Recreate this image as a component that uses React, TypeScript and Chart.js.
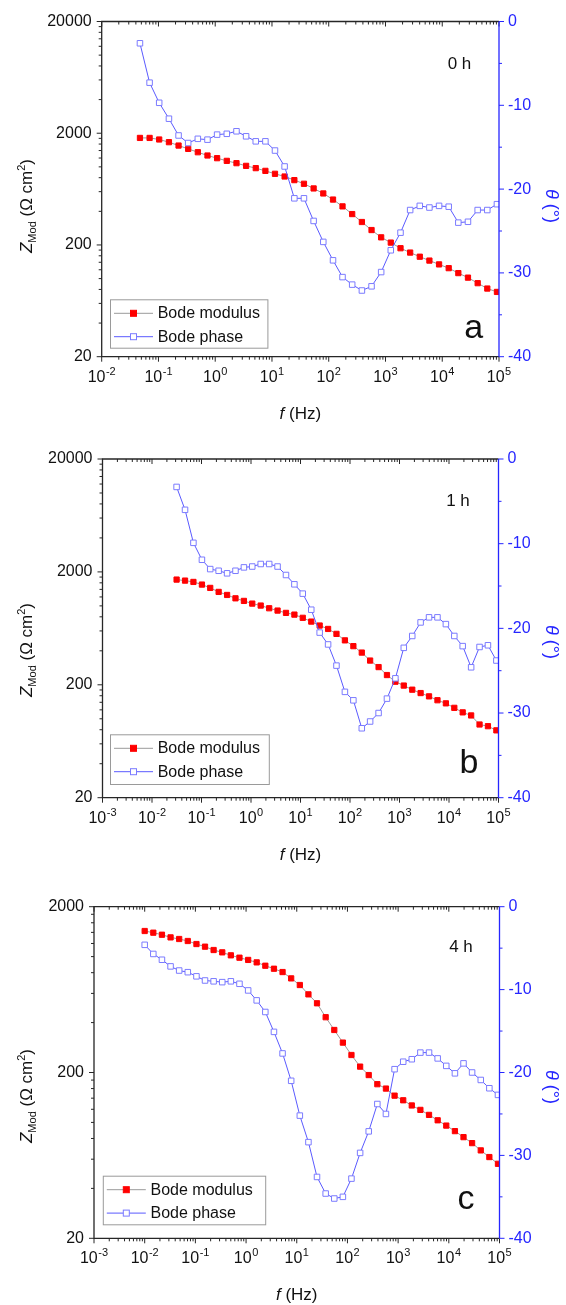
import React, { useEffect, useRef } from 'react';
import { Chart, registerables } from 'chart.js';

Chart.register(...registerables);

// ---------- Data ----------
// Panel a (0 h)
const freqA = [0.0472, 0.0698, 0.103, 0.153, 0.226, 0.334, 0.494, 0.731, 1.08, 1.6, 2.37, 3.5, 5.18, 7.66, 11.3, 16.7, 24.8, 36.6, 54.2, 80.2, 119, 175, 259, 384, 568, 839, 1240, 1840, 2720, 4020, 5940, 8790, 13000, 19200, 28400, 42100, 62200, 92000];
const modulusA = [1816, 1816, 1758, 1663, 1552, 1449, 1352, 1264, 1196, 1132, 1079, 1021, 974, 921, 867, 820, 761, 706, 641, 578, 510, 443, 378, 321, 272, 234, 210, 187, 171, 157, 145, 134, 124, 112, 102, 91, 81.5, 76];
const phaseA = [-2.6, -7.3, -9.7, -11.6, -13.6, -14.5, -14.0, -14.1, -13.5, -13.4, -13.1, -13.7, -14.3, -14.3, -15.4, -17.3, -21.1, -21.1, -23.8, -26.3, -28.5, -30.5, -31.4, -32.1, -31.6, -29.9, -27.3, -25.2, -22.5, -22.0, -22.2, -22.0, -22.1, -24.0, -23.9, -22.5, -22.5, -21.8];

// Panel b (1 h)
const freqB = [0.0314, 0.0465, 0.0687, 0.102, 0.15, 0.222, 0.329, 0.486, 0.719, 1.06, 1.57, 2.33, 3.44, 5.09, 7.53, 11.1, 16.5, 24.4, 36.1, 53.3, 78.9, 117, 173, 255, 378, 558, 826, 1220, 1810, 2670, 3950, 5850, 8650, 12800, 18900, 28000, 41400, 61200, 90600];
const modulusB = [1710, 1675, 1630, 1545, 1443, 1330, 1250, 1167, 1107, 1048, 1007, 953, 909, 867, 837, 784, 726, 670, 625, 565, 495, 440, 386, 328, 287, 244, 213, 197, 181, 169, 158, 146, 137, 125, 114, 107, 89, 86, 79];
const phaseB = [-3.3, -6.0, -9.9, -11.9, -13.0, -13.2, -13.5, -13.2, -12.8, -12.7, -12.4, -12.4, -12.7, -13.7, -14.8, -15.9, -17.8, -20.5, -21.9, -24.4, -27.5, -28.5, -31.8, -31.0, -30.0, -28.3, -25.9, -22.3, -20.9, -19.3, -18.7, -18.7, -19.5, -20.9, -22.1, -24.6, -22.2, -22.0, -23.8];

// Panel c (4 h)
const freqC = [0.01, 0.0148, 0.0219, 0.0324, 0.0479, 0.0708, 0.105, 0.155, 0.229, 0.339, 0.501, 0.741, 1.1, 1.62, 2.4, 3.55, 5.25, 7.76, 11.5, 17.0, 25.1, 37.2, 55.0, 81.3, 120, 178, 263, 389, 575, 851, 1260, 1860, 2750, 4070, 6030, 8910, 13200, 19500, 28800, 42700, 63100, 93300];
const modulusC = [1427, 1394, 1355, 1306, 1277, 1242, 1191, 1148, 1096, 1061, 1018, 985, 955, 923, 881, 845, 807, 739, 674, 592, 523, 431, 361, 303, 255, 217, 193, 170, 160, 145, 136, 126.5, 119, 111, 103, 95.7, 88.6, 81.5, 75, 67.8, 61.8, 56.3];
const phaseC = [-4.6, -5.7, -6.4, -7.2, -7.7, -7.9, -8.4, -8.9, -9.0, -9.1, -9.0, -9.3, -10.1, -11.3, -12.7, -15.1, -17.7, -21.0, -25.2, -28.4, -32.6, -34.6, -35.2, -35.0, -32.8, -29.7, -27.1, -23.8, -25.0, -19.6, -18.7, -18.4, -17.6, -17.6, -18.3, -19.2, -20.1, -18.9, -20.0, -20.9, -21.9, -22.7];

// Tick labels
const xExponentsA = [-2, -1, 0, 1, 2, 3, 4, 5];
const xExponentsBC = [-3, -2, -1, 0, 1, 2, 3, 4, 5];
const zTicksAB = [20, 200, 2000, 20000];
const zTicksC = [20, 200, 2000];
const phaseTicks = [-40, -30, -20, -10, 0];

const seriesNames = ['Bode modulus', 'Bode phase'];
const timeLabels = ['0 h', '1 h', '4 h'];
const panelLetters = ['a', 'b', 'c'];

// ---------- Styling ----------
const FONT = '"Liberation Sans", Arial, Helvetica, sans-serif';
const AXIS_BLUE = '#2626ff';
const PHASE_LINE = '#5a5aff';
const PHASE_MARK = '#7b7bff';
const MOD_LINE = '#9a9a9a';
const MOD_MARK = '#ff0000';
const FRAME = '#262626';
const W = 566;

interface PanelLayout {
  canvasTop: number;
  canvasH: number;
  left: number;
  right: number;
  top: number;
  bottom: number;
  legend: { x: number; y: number; w: number; h: number };
  tag: { x: number; y: number };
  letter: { x: number; y: number };
  yTitleC: number;
  rTitleC: number;
}

interface PanelDef {
  freq: number[];
  modulus: number[];
  phase: number[];
  xExps: number[];
  zTicks: number[];
  tag: string;
  letter: string;
  layout: PanelLayout;
}

const panels: PanelDef[] = [
  {
    freq: freqA, modulus: modulusA, phase: phaseA, xExps: xExponentsA, zTicks: zTicksAB,
    tag: timeLabels[0], letter: panelLetters[0],
    layout: {
      canvasTop: 0, canvasH: 430, left: 101.7, right: 499, top: 21.5, bottom: 356.7,
      legend: { x: 110, y: 299.3, w: 157.4, h: 48.4 },
      tag: { x: 459.5, y: 69.3 }, letter: { x: 473.6, y: 338.3 },
      yTitleC: 206, rTitleC: 206,
    },
  },
  {
    freq: freqB, modulus: modulusB, phase: phaseB, xExps: xExponentsBC, zTicks: zTicksAB,
    tag: timeLabels[1], letter: panelLetters[1],
    layout: {
      canvasTop: 430, canvasH: 440, left: 102.5, right: 498.5, top: 29, bottom: 367.7,
      legend: { x: 110, y: 304.3, w: 158.8, h: 49.7 },
      tag: { x: 458, y: 76 }, letter: { x: 469, y: 343.3 },
      yTitleC: 220, rTitleC: 212,
    },
  },
  {
    freq: freqC, modulus: modulusC, phase: phaseC, xExps: xExponentsBC, zTicks: zTicksC,
    tag: timeLabels[2], letter: panelLetters[2],
    layout: {
      canvasTop: 870, canvasH: 435, left: 94, right: 499.5, top: 36.7, bottom: 368.3,
      legend: { x: 102.8, y: 305.7, w: 162.4, h: 48.6 },
      tag: { x: 461, y: 81.7 }, letter: { x: 466, y: 339.3 },
      yTitleC: 226, rTitleC: 217,
    },
  },
];

function makeDecor(p: PanelDef) {
  const L = p.layout;
  return {
    id: 'decor',
    afterDraw(chart: any) {
      const ctx: CanvasRenderingContext2D = chart.ctx;
      const xs = chart.scales.x;
      const ys = chart.scales.y;
      const y2 = chart.scales.y2;
      const { left, right, top, bottom } = chart.chartArea;
      ctx.save();

      // Frame (left, top, bottom) in black
      ctx.strokeStyle = FRAME;
      ctx.lineWidth = 1.3;
      ctx.beginPath();
      ctx.moveTo(right, top);
      ctx.lineTo(left, top);
      ctx.lineTo(left, bottom);
      ctx.lineTo(right, bottom);
      ctx.stroke();

      // X ticks: bottom outward, top inward
      ctx.lineWidth = 1;
      ctx.beginPath();
      const e0 = p.xExps[0];
      const e1 = p.xExps[p.xExps.length - 1];
      for (let e = e0; e <= e1; e++) {
        for (let k = 1; k <= 9; k++) {
          if (e === e1 && k > 1) break;
          const v = k * Math.pow(10, e);
          const px = xs.getPixelForValue(v);
          const len = k === 1 ? 5 : 3;
          ctx.moveTo(px, bottom);
          ctx.lineTo(px, bottom + len);
          ctx.moveTo(px, top);
          ctx.lineTo(px, top + len);
        }
      }
      // Left axis ticks outward
      for (let i = 0; i < p.zTicks.length; i++) {
        const M = p.zTicks[i];
        const py = ys.getPixelForValue(M);
        ctx.moveTo(left, py);
        ctx.lineTo(left - 5, py);
        if (i < p.zTicks.length - 1) {
          for (let m = 2; m <= 9; m++) {
            const pm = ys.getPixelForValue(M * m);
            ctx.moveTo(left, pm);
            ctx.lineTo(left - 3, pm);
          }
        }
      }
      ctx.stroke();

      // Right axis (blue)
      ctx.strokeStyle = AXIS_BLUE;
      ctx.lineWidth = 1.3;
      ctx.beginPath();
      ctx.moveTo(right, top);
      ctx.lineTo(right, bottom);
      ctx.stroke();
      ctx.lineWidth = 1;
      ctx.beginPath();
      for (let v = -40; v <= 0; v += 5) {
        const py = y2.getPixelForValue(v);
        const len = v % 10 === 0 ? 5 : 3;
        ctx.moveTo(right, py);
        ctx.lineTo(right + len, py);
      }
      ctx.stroke();

      // X tick labels 10^n
      ctx.fillStyle = '#111';
      ctx.textBaseline = 'alphabetic';
      ctx.textAlign = 'left';
      for (const e of p.xExps) {
        const px = xs.getPixelForValue(Math.pow(10, e));
        ctx.font = `16px ${FONT}`;
        const wBase = ctx.measureText('10').width;
        ctx.font = `11px ${FONT}`;
        const expStr = String(e);
        const wExp = ctx.measureText(expStr).width;
        const start = px - (wBase + wExp + 0.5) / 2;
        ctx.font = `16px ${FONT}`;
        ctx.fillText('10', start, bottom + 25);
        ctx.font = `11px ${FONT}`;
        ctx.fillText(expStr, start + wBase + 0.5, bottom + 18);
      }

      // X title: f (Hz)
      {
        ctx.font = `italic 17px ${FONT}`;
        const wf = ctx.measureText('f').width;
        ctx.font = `17px ${FONT}`;
        const wr = ctx.measureText(' (Hz)').width;
        const cx = (left + right) / 2;
        const sx = cx - (wf + wr) / 2;
        ctx.fillStyle = '#111';
        ctx.font = `italic 17px ${FONT}`;
        ctx.fillText('f', sx, bottom + 62);
        ctx.font = `17px ${FONT}`;
        ctx.fillText(' (Hz)', sx + wf, bottom + 62);
      }

      // Left title: Z_Mod (Ω cm²)
      {
        const parts: { t: string; f: string; dy: number }[] = [
          { t: 'Z', f: `italic 17px ${FONT}`, dy: 0 },
          { t: 'Mod', f: `11px ${FONT}`, dy: 4 },
          { t: ' (\u03A9 cm', f: `17px ${FONT}`, dy: 0 },
          { t: '2', f: `11px ${FONT}`, dy: -7 },
          { t: ')', f: `17px ${FONT}`, dy: 0 },
        ];
        let total = 0;
        const widths = parts.map((pt) => {
          ctx.font = pt.f;
          const w = ctx.measureText(pt.t).width;
          total += w;
          return w;
        });
        ctx.save();
        ctx.translate(32, L.yTitleC);
        ctx.rotate(-Math.PI / 2);
        ctx.fillStyle = '#111';
        let x = -total / 2;
        parts.forEach((pt, i) => {
          ctx.font = pt.f;
          ctx.fillText(pt.t, x, pt.dy);
          x += widths[i];
        });
        ctx.restore();
      }

      // Right title: θ (°)
      {
        ctx.font = `italic 18px ${FONT}`;
        const w1 = ctx.measureText('\u03B8').width;
        ctx.font = `18px ${FONT}`;
        const w2 = ctx.measureText(' (\u00B0)').width;
        ctx.save();
        ctx.translate(546, L.rTitleC);
        ctx.rotate(Math.PI / 2);
        ctx.fillStyle = AXIS_BLUE;
        const sx = -(w1 + w2) / 2;
        ctx.font = `italic 18px ${FONT}`;
        ctx.fillText('\u03B8', sx, 0);
        ctx.font = `18px ${FONT}`;
        ctx.fillText(' (\u00B0)', sx + w1, 0);
        ctx.restore();
      }

      // Legend
      {
        const lg = L.legend;
        ctx.fillStyle = '#ffffff';
        ctx.fillRect(lg.x, lg.y, lg.w, lg.h);
        ctx.strokeStyle = '#9a9a9a';
        ctx.lineWidth = 1;
        ctx.strokeRect(lg.x + 0.5, lg.y + 0.5, lg.w, lg.h);
        const datasets = chart.data.datasets;
        for (let i = 0; i < 2; i++) {
          const ds = datasets[i];
          const cy = lg.y + 14 + i * 23.4;
          ctx.strokeStyle = ds.borderColor;
          ctx.lineWidth = 1;
          ctx.beginPath();
          ctx.moveTo(lg.x + 4, cy);
          ctx.lineTo(lg.x + 43, cy);
          ctx.stroke();
          const mx = lg.x + 23.5;
          ctx.fillStyle = ds.pointBackgroundColor;
          ctx.fillRect(mx - 3, cy - 3, 6, 6);
          ctx.strokeStyle = ds.pointBorderColor;
          ctx.strokeRect(mx - 3, cy - 3, 6, 6);
          ctx.fillStyle = '#111';
          ctx.font = `16px ${FONT}`;
          ctx.textBaseline = 'middle';
          ctx.fillText(ds.label, lg.x + 47.7, cy + 0.5);
          ctx.textBaseline = 'alphabetic';
        }
      }

      // Time tag and panel letter
      ctx.fillStyle = '#111';
      ctx.textAlign = 'center';
      ctx.font = `17px ${FONT}`;
      ctx.fillText(p.tag, L.tag.x, L.tag.y);
      ctx.font = `34px ${FONT}`;
      ctx.fillText(p.letter, L.letter.x, L.letter.y);

      ctx.restore();
    },
  };
}

function Panel({ p }: { p: PanelDef }) {
  const ref = useRef<HTMLCanvasElement | null>(null);
  useEffect(() => {
    const canvas = ref.current;
    if (!canvas) return;
    const L = p.layout;
    const xMin = Math.pow(10, p.xExps[0]);
    const xMax = Math.pow(10, p.xExps[p.xExps.length - 1]);
    const chart = new Chart(canvas, {
      type: 'line',
      data: {
        datasets: [
          {
            label: seriesNames[0],
            data: p.freq.map((f, i) => ({ x: f, y: p.modulus[i] })),
            yAxisID: 'y',
            borderColor: MOD_LINE,
            borderWidth: 1,
            pointStyle: 'rect',
            pointRadius: 3.7,
            pointBackgroundColor: MOD_MARK,
            pointBorderColor: MOD_MARK,
            pointBorderWidth: 1,
            order: 2,
          },
          {
            label: seriesNames[1],
            data: p.freq.map((f, i) => ({ x: f, y: p.phase[i] })),
            yAxisID: 'y2',
            borderColor: PHASE_LINE,
            borderWidth: 1,
            pointStyle: 'rect',
            pointRadius: 3.9,
            pointBackgroundColor: '#ffffff',
            pointBorderColor: PHASE_MARK,
            pointBorderWidth: 1,
            order: 1,
          },
        ] as any,
      },
      options: {
        animation: false,
        responsive: false,
        maintainAspectRatio: false,
        devicePixelRatio: 1,
        layout: { padding: { top: L.top, left: 0, right: 0, bottom: 0 } },
        plugins: { legend: { display: false }, tooltip: { enabled: false } },
        scales: {
          x: {
            type: 'logarithmic',
            position: 'bottom',
            min: xMin,
            max: xMax,
            grid: { display: false, drawTicks: false },
            border: { display: false },
            ticks: { display: false },
            afterFit: (s: any) => { s.height = L.canvasH - L.bottom; },
          },
          y: {
            type: 'logarithmic',
            position: 'left',
            min: p.zTicks[0],
            max: p.zTicks[p.zTicks.length - 1],
            grid: { display: false, drawTicks: false },
            border: { display: false },
            afterBuildTicks: (s: any) => { s.ticks = p.zTicks.map((v) => ({ value: v })); },
            ticks: {
              callback: (v: any) => String(v),
              color: '#111',
              font: { family: FONT, size: 16 },
              padding: 10,
              autoSkip: false,
            },
            afterFit: (s: any) => { s.width = L.left; },
          },
          y2: {
            type: 'linear',
            position: 'right',
            min: -40,
            max: 0,
            grid: { display: false, drawTicks: false },
            border: { display: false },
            afterBuildTicks: (s: any) => { s.ticks = phaseTicks.map((v) => ({ value: v })); },
            ticks: {
              callback: (v: any) => String(v),
              color: AXIS_BLUE,
              font: { family: FONT, size: 16 },
              padding: 9,
              autoSkip: false,
            },
            afterFit: (s: any) => { s.width = W - L.right; },
          },
        },
      } as any,
      plugins: [makeDecor(p)],
    });
    return () => chart.destroy();
  }, [p]);
  return (
    <canvas
      ref={ref}
      width={W}
      height={p.layout.canvasH}
      style={{ position: 'absolute', left: 0, top: p.layout.canvasTop, width: W, height: p.layout.canvasH }}
    />
  );
}

export default function App() {
  return (
    <div style={{ position: 'absolute', left: 0, top: 0, width: W, height: 1305, background: '#ffffff' }}>
      {panels.map((p, i) => (
        <Panel key={i} p={p} />
      ))}
    </div>
  );
}
